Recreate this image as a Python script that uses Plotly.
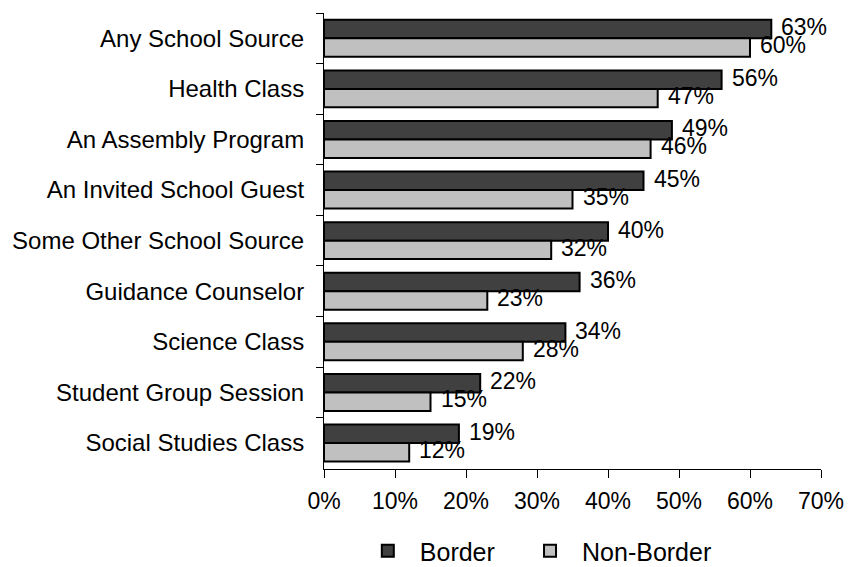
import plotly.graph_objects as go

categories = [
    "Any School Source",
    "Health Class",
    "An Assembly Program",
    "An Invited School Guest",
    "Some Other School Source",
    "Guidance Counselor",
    "Science Class",
    "Student Group Session",
    "Social Studies Class",
]
border = [63, 56, 49, 45, 40, 36, 34, 22, 19]
non_border = [60, 47, 46, 35, 32, 23, 28, 15, 12]
x_ticks = [0, 10, 20, 30, 40, 50, 60, 70]
x_tick_labels = [f"{v}%" for v in x_ticks]

FONT = "Liberation Sans, Arial, sans-serif"

fig = go.Figure()
fig.add_trace(go.Bar(
    name="Border", y=categories, x=border, orientation="h", legend="legend",
    showlegend=True,
    marker=dict(color="#404040", line=dict(color="#000000", width=2)),
))
fig.add_trace(go.Bar(
    name="Non-Border", y=categories, x=non_border, orientation="h", legend="legend2",
    showlegend=True,
    marker=dict(color="#c0c0c0", line=dict(color="#000000", width=2)),
))

annotations = []
for cat, b, nb in zip(categories, border, non_border):
    annotations.append(dict(x=b, y=cat, text=f"{b}%", xanchor="left", yanchor="middle",
                            xshift=8, yshift=11, showarrow=False,
                            font=dict(size=23, color="black", family=FONT)))
    annotations.append(dict(x=nb, y=cat, text=f"{nb}%", xanchor="left", yanchor="middle",
                            xshift=8, yshift=-7, showarrow=False,
                            font=dict(size=23, color="black", family=FONT)))

legend_style = dict(orientation="h", xanchor="left", y=-0.18, yanchor="middle",
                    font=dict(size=25, family=FONT), itemwidth=54, bgcolor="rgba(0,0,0,0)")

# page body adds an 8px offset, so margins are reduced accordingly
fig.update_layout(
    width=845, height=567,
    margin=dict(l=316, r=32, t=5, b=106, autoexpand=False),
    paper_bgcolor="white", plot_bgcolor="white",
    showlegend=True,
    barmode="group", bargap=0.27, bargroupgap=0,
    font=dict(family=FONT, size=22, color="black"),
    annotations=annotations,
    legend=dict(x=0.064, **legend_style),
    legend2=dict(x=0.3904, **legend_style),
    xaxis=dict(range=[0, 70], tickvals=x_ticks, ticktext=x_tick_labels, automargin=False,
               showgrid=False, zeroline=False, showline=True, linecolor="black", linewidth=1,
               ticks="outside", ticklen=8, tickcolor="black", ticklabelstandoff=3,
               tickfont=dict(size=23)),
    yaxis=dict(autorange="reversed", showgrid=False, zeroline=False, showline=True, automargin=False,
               linecolor="black", linewidth=1, ticks="outside", ticklen=7, tickcolor="black",
               tickson="boundaries", ticklabelstandoff=14, tickfont=dict(size=24)),
)

fig.write_html("out.html")
